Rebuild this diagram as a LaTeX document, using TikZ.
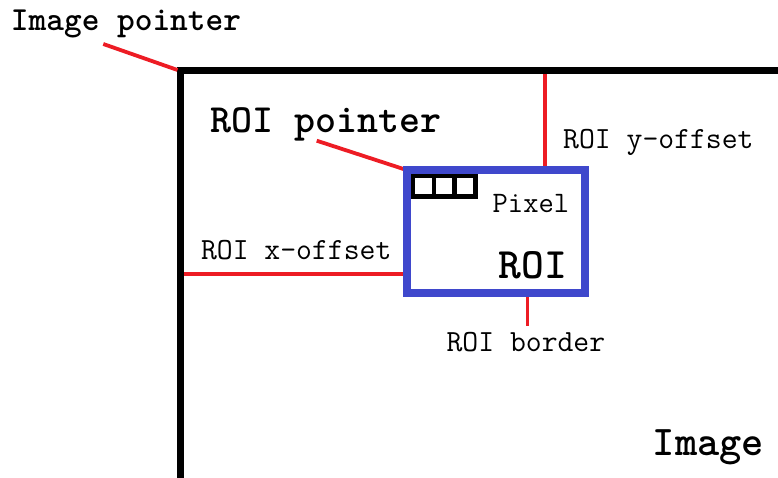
\documentclass[tikz,border=0pt]{standalone}
\usepackage{fontspec}
\usetikzlibrary{positioning}
\definecolor{paintred}{HTML}{ED1C24}
\definecolor{paintblue}{HTML}{3F48CC}

\begin{document}
\begin{tikzpicture}[x=1pt, y=-1pt,
  pointer/.style={draw=paintred, line width=3.8pt},
  lbl/.style={inner sep=0pt, anchor=base, font=\ttfamily\fontsize{30.8}{30.8}\selectfont},
  biglbl/.style={lbl, font=\ttfamily\bfseries\fontsize{#1}{#1}\selectfont},
  cell/.style={draw, line width=4.5pt, fill=white, inner sep=0pt, outer sep=0pt,
    minimum width=20.8pt, minimum height=20.5pt}]
 \useasboundingbox (0,0) rectangle (778,478);
 \clip (0,0) rectangle (778,478);
 % image frame (runs off the page)
 \coordinate (imgtl) at (180.5,70.8);
 \draw[line width=7pt] (imgtl) rectangle (810,510);
 \coordinate (imgcorner) at (177.5,70);
 % ROI
 \node [draw=paintblue, line width=8pt, inner sep=0pt, outer sep=0pt,
   minimum width=177.8pt, minimum height=122.5pt] (roi) at (495.6,231.3) {};
 \node [cell] (p1) at (423.4,186.3) {};
 \node [cell, right=0pt of p1] (p2) {};
 \node [cell, right=0pt of p2] (p3) {};
 % labels
 \node [biglbl=33.7] (imgptr) at (126,31) {Image pointer};
 \node [biglbl=40] (roiptr) at (326.4,132.7) {ROI pointer};
 \node [lbl] (yoff) at (658.4,148.3) {ROI y-offset};
 \node [lbl] (xoff) at (296.2,259.3) {ROI x-offset};
 \node [lbl] (border) at (525.9,351.7) {ROI border};
 \node [lbl, font=\ttfamily\fontsize{29.7}{29.7}\selectfont] (pixel) at (530.9,212.3) {Pixel};
 \node [biglbl=43.4] (roiname) at (532.9,278) {ROI};
 \node [biglbl=42.3] (imgname) at (708.5,455) {Image};
 % connectors
 \coordinate (imgptrend) at (103.3,44);
 \coordinate (roiptrend) at (316.7,140.7);
 \coordinate (xoffstart) at (184,273.8);
 \coordinate (yoffstart) at (544.7,74);
 \coordinate (borderend) at (527.5,326);
 \draw[pointer] (imgptrend) -- (imgcorner);
 \draw[pointer] (roiptrend) -- (roi.north west);
 \draw[pointer] (xoffstart) -- (xoffstart -| roi.west);
 \draw[pointer] (yoffstart) -- (yoffstart |- roi.north);
 \draw[pointer] (borderend |- roi.south) -- (borderend);
 % redraw ROI border on top of the connectors
 \draw[paintblue, line width=8pt] (roi.north west) rectangle (roi.south east);
 \node [cell] at (p1) {};
 \node [cell] at (p2) {};
 \node [cell] at (p3) {};
\end{tikzpicture}
\end{document}
